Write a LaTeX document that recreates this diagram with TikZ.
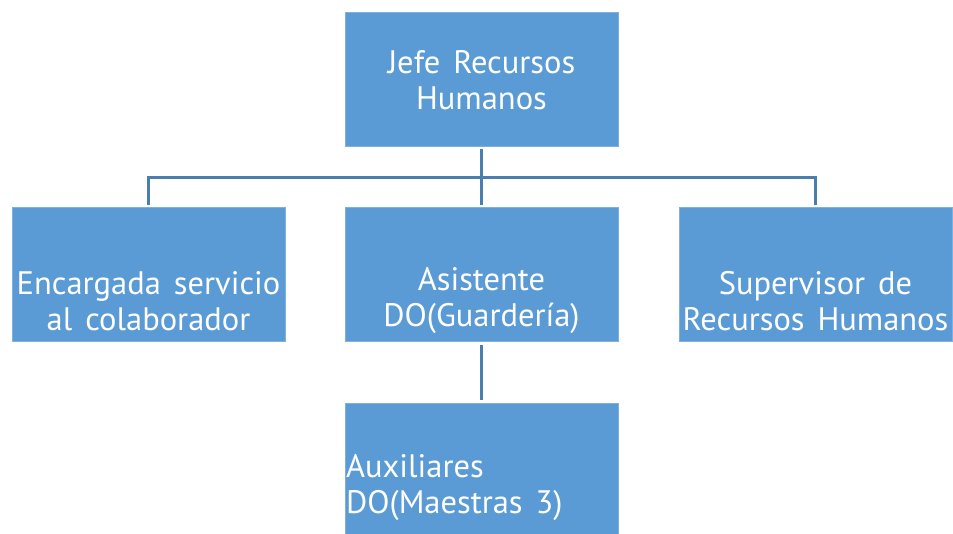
\documentclass[tikz,border=0pt]{standalone}
\usepackage{fontspec}
\setmainfont{PT Sans}[WordSpace=1.5]
\definecolor{boxblue}{HTML}{5B9BD5}
\definecolor{boxedge}{HTML}{7FB0DE}
\definecolor{linecol}{HTML}{4A7EAE}
\begin{document}
\begin{tikzpicture}[x=1pt,y=-1pt,
  box/.style={fill=boxblue, draw=boxedge, line width=0.6pt, minimum width=273pt, minimum height=134pt, inner sep=0pt, outer sep=0pt},
  lbl/.style={text=white, font=\fontsize{32.5}{36}\selectfont, align=center, inner sep=0pt},
  conn/.style={draw=linecol, line width=2.6pt}]
\useasboundingbox (0,0) rectangle (953,533);
\begin{scope}
\clip (0,0) rectangle (953,533);
\node[box] (top) at (481.5,79) {};
\node[box] (left) at (148.5,274.5) {};
\node[box] (mid) at (481.5,274.5) {};
\node[box] (right) at (815.5,274.5) {};
\node[box] (bot) at (481.5,470) {};
\end{scope}
\node[lbl] (topl) at (481.5,80) {Jefe Recursos\\Humanos};
\node[lbl] (leftl) at (148.5,301) {Encargada servicio\\al colaborador};
\node[lbl] (midl) at (481.5,301) {Asistente\\DO(Guardería)};
\node[lbl] (rightl) at (815.5,301) {Supervisor de\\Recursos Humanos};
\node[lbl, anchor=west, align=left] (botl) at (346,488) {Auxiliares\\DO(Maestras 3)};
\draw[conn] ([yshift=-3pt]top.south) -- ([yshift=-31pt]top.south);
\draw[conn] ([yshift=3pt]left.north) -- ([yshift=30pt]left.north) -- ([yshift=30pt]right.north) -- ([yshift=3pt]right.north);
\draw[conn] ([yshift=3pt]mid.north) -- ([yshift=30pt]mid.north);
\draw[conn] ([yshift=-3pt]mid.south) -- ([yshift=3pt]bot.north);
\end{tikzpicture}
\end{document}
